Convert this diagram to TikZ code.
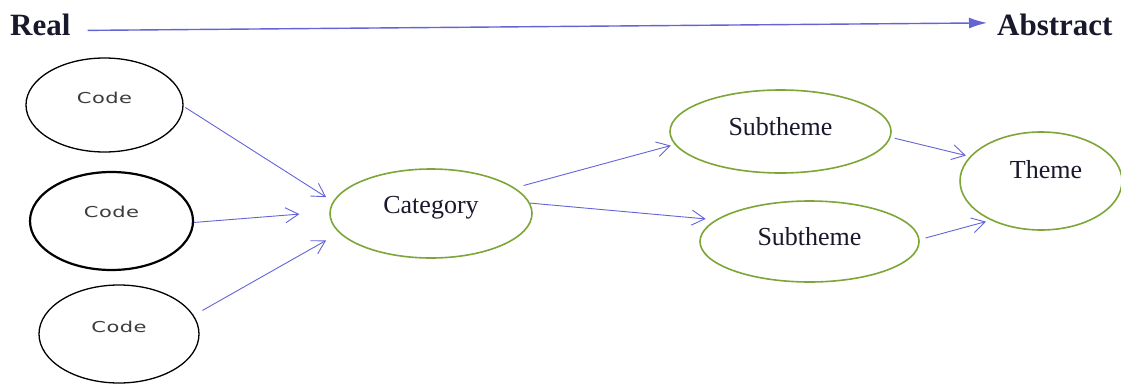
\documentclass[tikz,border=0pt]{standalone}
\usepackage{fontspec}
\setmainfont{Liberation Serif}
\newfontfamily\codefont[FakeStretch=1.4,LetterSpace=3]{DejaVu Sans}
\usetikzlibrary{shapes.geometric,arrows.meta}
\definecolor{arrowblue}{RGB}{100,100,215}
\definecolor{ellgreen}{RGB}{125,165,55}
\definecolor{textdark}{RGB}{25,25,45}
\definecolor{codegray}{RGB}{60,60,60}
\begin{document}
\begin{tikzpicture}[x=1pt,y=-1pt,
  codeell/.style={ellipse,draw=black,line width=1.3pt,inner sep=0pt},
  greenell/.style={ellipse,draw=ellgreen,line width=1.6pt,inner sep=0pt},
  codelbl/.style={anchor=base,inner sep=0pt,text=codegray,font=\codefont\fontsize{15}{18}\selectfont},
  lbl/.style={anchor=base,inner sep=0pt,text=textdark,font=\fontsize{26}{30}\selectfont},
  endlbl/.style={anchor=base west,inner sep=0pt,text=textdark,font=\bfseries\fontsize{31}{36}\selectfont},
  conn/.style={draw=arrowblue,line width=0.9pt,-{Straight Barb[length=13pt,width=15pt,line width=0.9pt]}},
  toparrow/.style={draw=arrowblue,line width=1.4pt,-{Latex[length=18pt,width=11pt]}}
]
\fill[white] (0,0) rectangle (1121,383);
\useasboundingbox (0,0) rectangle (1121,383);

\node[codeell,minimum width=157pt,minimum height=94pt] (c1) at (104.5,105) {};
\node[codeell,line width=2.2pt,minimum width=163pt,minimum height=98pt] (c2) at (111.5,221) {};
\node[codeell,minimum width=160pt,minimum height=98pt] (c3) at (119,334) {};
\node[greenell,minimum width=202pt,minimum height=89pt] (cat) at (431,213.5) {};
\node[greenell,minimum width=221pt,minimum height=83pt] (s1) at (780.5,131.5) {};
\node[greenell,minimum width=219pt,minimum height=81pt] (s2) at (809.5,241.5) {};
\node[greenell,minimum width=162pt,minimum height=98pt] (th) at (1041,181) {};

\node[codelbl] (t1) at ([yshift=2pt]c1.center) {Code};
\node[codelbl] (t2) at ([yshift=4pt]c2.center) {Code};
\node[codelbl] (t3) at ([yshift=2pt]c3.center) {Code};
\node[lbl] (tcat) at (cat.center) {Category};
\node[lbl] (ts1) at ([yshift=-3.5pt]s1.center) {Subtheme};
\node[lbl] (ts2) at ([yshift=-3.5pt]s2.center) {Subtheme};
\node[lbl] (tth) at ([xshift=5pt,yshift=2.7pt]th.center) {Theme};

\node[endlbl] (real) at (10,35) {Real};
\node[endlbl] (abs) at (997,35) {Abstract};

\draw[toparrow,shorten <=1pt] ([xshift=16pt,yshift=-6pt]real.east) -- ([xshift=-10pt,yshift=1.5pt]abs.west);

\draw[conn,shorten <=2pt,shorten >=8pt] (c1.-1) -- (cat.173);
\draw[conn,shorten >=30pt] (c2.-1) -- (cat.179);
\draw[conn,shorten <=10pt,shorten >=15pt] (c3.14) -- (cat.-168);
\draw[conn,shorten <=9pt,shorten >=4pt] (cat.17) -- (s1.-173);
\draw[conn,shorten >=10pt] (cat.6) -- (s2.167);
\draw[conn,shorten <=4pt,shorten >=4pt] (s1.-3) -- (th.161);
\draw[conn,shorten <=6pt,shorten >=5pt] (s2.1) -- (th.-142);
\end{tikzpicture}
\end{document}
